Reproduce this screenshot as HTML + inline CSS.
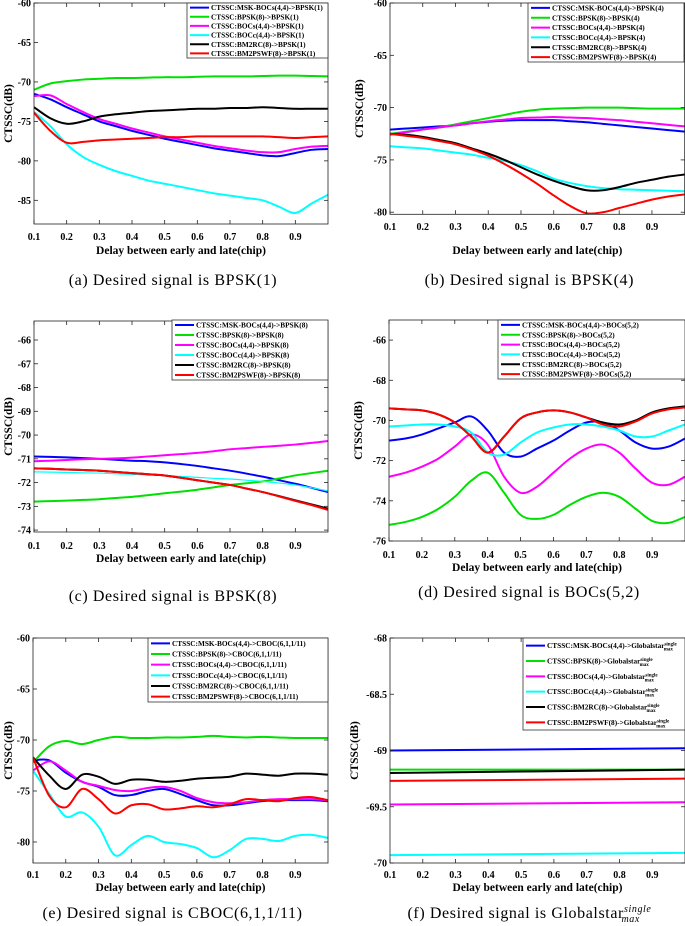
<!DOCTYPE html>
<html><head><meta charset="utf-8"><style>
html,body{margin:0;padding:0;background:#fff;}
svg{display:block;}
.tk{font:bold 10px "Liberation Serif",serif;fill:#000;}
.xl{font:bold 11.5px "Liberation Serif",serif;fill:#000;}
.cap{font:16px "Liberation Serif",serif;fill:#000;letter-spacing:0.6px;}
.lg{font:bold 7.3px "Liberation Serif",serif;fill:#000;}
</style></head><body>
<svg id="fig" width="685" height="926" viewBox="0 0 685 926" xmlns="http://www.w3.org/2000/svg"></svg>
<script>
// ---------- data ----------
const xsStep = [0.1,0.15,0.2,0.25,0.3,0.35,0.4,0.45,0.5,0.55,0.6,0.65,0.7,0.75,0.8,0.85,0.9,0.95,1.0];
const xsEnds = [0.1,1.0];
const seriesColors = ['#0000ff','#00e000','#ff00ff','#00ffff','#000000','#ff0000'];

// (a) BPSK(1)
const aBlue = [-71.5,-72.2,-73.2,-74.1,-75,-75.6,-76.2,-76.7,-77.2,-77.6,-78,-78.4,-78.7,-79,-79.3,-79.4,-79,-78.6,-78.5];
const aGreen = [-71,-70.2,-69.9,-69.7,-69.6,-69.5,-69.5,-69.45,-69.4,-69.4,-69.35,-69.3,-69.3,-69.3,-69.25,-69.2,-69.2,-69.25,-69.3];
const aMagenta = [-71.8,-71.7,-72.8,-73.8,-74.7,-75.3,-75.9,-76.4,-76.9,-77.3,-77.7,-78.1,-78.4,-78.7,-78.9,-78.9,-78.5,-78.2,-78.1];
const aCyan = [-73.8,-75.6,-77.9,-79.5,-80.5,-81.3,-81.9,-82.5,-82.9,-83.3,-83.7,-84.1,-84.4,-84.7,-85,-85.8,-86.6,-85.4,-84.3];
const aBlack = [-73.2,-74.6,-75.3,-75,-74.4,-74.1,-73.9,-73.7,-73.6,-73.5,-73.4,-73.4,-73.3,-73.3,-73.2,-73.3,-73.4,-73.4,-73.4];
const aRed = [-73.9,-76.2,-77.7,-77.6,-77.4,-77.3,-77.2,-77.1,-77,-77,-76.9,-76.9,-76.9,-76.9,-76.9,-77,-77.1,-77,-76.9];
const aTicks = [-60,-65,-70,-75,-80,-85];

// (b) BPSK(4)
const bBlue = [-72.1,-72,-71.9,-71.8,-71.7,-71.5,-71.35,-71.25,-71.2,-71.2,-71.2,-71.3,-71.4,-71.55,-71.7,-71.85,-72,-72.15,-72.3];
const bGreen = [-72.5,-72.3,-72.1,-71.9,-71.6,-71.3,-71,-70.7,-70.4,-70.2,-70.1,-70.05,-70,-70,-70,-70.05,-70.1,-70.1,-70.1];
const bMagenta = [-72.6,-72.35,-72.1,-71.9,-71.7,-71.5,-71.3,-71.15,-71,-70.95,-70.9,-70.95,-71,-71.1,-71.2,-71.35,-71.5,-71.65,-71.8];
const bCyan = [-73.7,-73.8,-73.9,-74.1,-74.3,-74.5,-74.8,-75.1,-75.5,-76.1,-76.8,-77.2,-77.5,-77.7,-77.8,-77.85,-77.9,-77.95,-78];
const bBlack = [-72.5,-72.6,-72.8,-73.1,-73.4,-73.9,-74.4,-75,-75.7,-76.4,-77,-77.5,-77.9,-77.9,-77.6,-77.2,-76.9,-76.6,-76.4];
const bRed = [-72.5,-72.7,-72.9,-73.2,-73.5,-74,-74.6,-75.4,-76.3,-77.3,-78.4,-79.4,-80.1,-80,-79.6,-79.2,-78.8,-78.5,-78.3];
const bTicks = [-60,-65,-70,-75,-80];

// (c) BPSK(8)
const cBlue = [-70.9,-70.92,-70.94,-70.97,-71,-71.04,-71.08,-71.1,-71.15,-71.22,-71.3,-71.4,-71.5,-71.62,-71.75,-71.9,-72.05,-72.22,-72.4];
const cGreen = [-72.8,-72.78,-72.76,-72.73,-72.7,-72.65,-72.6,-72.53,-72.45,-72.38,-72.3,-72.2,-72.1,-72.03,-71.95,-71.83,-71.7,-71.6,-71.5];
const cMagenta = [-71.1,-71.08,-71.05,-71.02,-71,-70.98,-70.95,-70.9,-70.85,-70.8,-70.75,-70.68,-70.6,-70.55,-70.5,-70.45,-70.4,-70.33,-70.25];
const cCyan = [-71.55,-71.56,-71.57,-71.59,-71.6,-71.63,-71.65,-71.68,-71.7,-71.74,-71.78,-71.82,-71.85,-71.9,-71.95,-72.02,-72.1,-72.22,-72.35];
const cBlack = [-71.4,-71.42,-71.45,-71.47,-71.5,-71.55,-71.6,-71.65,-71.7,-71.8,-71.9,-72,-72.1,-72.25,-72.4,-72.57,-72.75,-72.92,-73.1];
const cRed = [-71.4,-71.42,-71.45,-71.47,-71.5,-71.55,-71.6,-71.65,-71.7,-71.8,-71.9,-72,-72.1,-72.25,-72.4,-72.58,-72.77,-72.95,-73.15];
const cTicks = [-66,-67,-68,-69,-70,-71,-72,-73,-74];

// (d) BOCs(5,2)
const dBlue = [-71,-70.9,-70.7,-70.4,-70.1,-69.8,-70.5,-71.6,-71.8,-71.4,-71,-70.5,-70.1,-70.1,-70.5,-71.1,-71.4,-71.3,-70.9];
const dGreen = [-75.2,-75.05,-74.8,-74.4,-73.8,-73,-72.6,-73.6,-74.7,-74.9,-74.7,-74.2,-73.8,-73.6,-73.8,-74.4,-75,-75.1,-74.8];
const dMagenta = [-72.8,-72.6,-72.3,-71.9,-71.3,-70.7,-71.2,-72.8,-73.6,-73.3,-72.6,-71.9,-71.4,-71.2,-71.6,-72.4,-73.1,-73.2,-72.8];
const dCyan = [-70.3,-70.25,-70.2,-70.2,-70.3,-70.6,-71.6,-71.7,-71.1,-70.6,-70.35,-70.2,-70.2,-70.3,-70.5,-70.8,-70.8,-70.5,-70.2];
const dBlack = [-69.4,-69.45,-69.5,-69.7,-70.1,-70.8,-71.6,-70.8,-69.9,-69.6,-69.5,-69.6,-69.85,-70.1,-70.2,-70,-69.6,-69.4,-69.3];
const dRed = [-69.4,-69.45,-69.5,-69.7,-70.1,-70.8,-71.6,-70.8,-69.9,-69.6,-69.5,-69.6,-69.85,-70.2,-70.3,-70.05,-69.65,-69.45,-69.35];
const dTicks = [-66,-68,-70,-72,-74,-76];

// (e) CBOC(6,1,1/11)
const eBlue = [-72,-72,-73.2,-74.1,-74.6,-75.4,-75.4,-75,-74.8,-75.3,-75.9,-76.4,-76.4,-76.2,-76,-75.9,-75.9,-75.9,-76];
const eGreen = [-72.2,-70.6,-70.1,-70.4,-70,-69.7,-69.8,-69.8,-69.75,-69.75,-69.7,-69.6,-69.7,-69.75,-69.7,-69.75,-69.8,-69.8,-69.8];
const eMagenta = [-73,-72.1,-73,-74.1,-74.5,-74.9,-75,-74.7,-74.6,-75,-75.7,-76.1,-76.2,-76.1,-75.9,-75.8,-75.8,-75.8,-75.9];
const eCyan = [-73,-75.3,-77.5,-77.1,-78.5,-81.3,-80.3,-79.4,-80,-80.2,-80.6,-81.5,-80.8,-79.7,-79.7,-79.9,-79.4,-79.3,-79.6];
const eBlack = [-71.7,-73.5,-74.8,-73.4,-73.6,-74.3,-73.9,-73.9,-74.1,-74,-73.8,-73.7,-73.6,-73.3,-73.4,-73.5,-73.3,-73.3,-73.4];
const eRed = [-71.7,-75.5,-76.6,-74.8,-75.8,-77.2,-76.4,-76.3,-76.8,-76.7,-76.5,-76.6,-76.3,-75.8,-75.9,-76,-75.7,-75.6,-75.9];
const eTicks = [-60,-65,-70,-75,-80];

// (f) Globalstar
const fBlue = [-69.0,-68.98];
const fGreen = [-69.17,-69.17];
const fMagenta = [-69.48,-69.46];
const fCyan = [-69.93,-69.91];
const fBlack = [-69.2,-69.17];
const fRed = [-69.27,-69.25];
const fTicks = [-68,-68.5,-69,-69.5,-70];

const xTicks = [0.1,0.2,0.3,0.4,0.5,0.6,0.7,0.8,0.9];

// ---------- drawing ----------
const NS = 'http://www.w3.org/2000/svg';
const svg = document.getElementById('fig');
function mk(tag, attrs, parent){
  const e = document.createElementNS(NS, tag);
  for (const k in attrs) e.setAttribute(k, attrs[k]);
  (parent||svg).appendChild(e);
  return e;
}
function smoothPath(pts){
  let d = 'M'+pts[0][0].toFixed(2)+','+pts[0][1].toFixed(2);
  for (let i=0;i<pts.length-1;i++){
    const p0 = pts[Math.max(0,i-1)], p1 = pts[i], p2 = pts[i+1], p3 = pts[Math.min(pts.length-1,i+2)];
    const c1x = p1[0]+(p2[0]-p0[0])/6, c1y = p1[1]+(p2[1]-p0[1])/6;
    const c2x = p2[0]-(p3[0]-p1[0])/6, c2y = p2[1]-(p3[1]-p1[1])/6;
    d += ' C'+c1x.toFixed(2)+','+c1y.toFixed(2)+' '+c2x.toFixed(2)+','+c2y.toFixed(2)+' '+p2[0].toFixed(2)+','+p2[1].toFixed(2);
  }
  return d;
}

function panel(cfg){
  const g = mk('g', {});
  
  
  const L=cfg.box[0], T=cfg.box[1], R=cfg.box[2], B=cfg.box[3];
  const xs = v => L + (v-0.1)/(1.0-0.1)*(R-L);
  const ys = v => T + (cfg.ymax - v)/(cfg.ymax - cfg.ymin)*(B-T);
  const sg = mk('g', {'clip-path':'url(#clip-'+cfg.id+')'}, g);
  const cp = mk('clipPath', {id:'clip-'+cfg.id}, g);
  mk('rect', {x:L, y:T, width:R-L, height:B-T}, cp);
  cfg.series.forEach((s,i)=>{
    const pts = cfg.xs.map((x,j)=>[xs(x), ys(s[j])]);
    const w = (cfg.thin && i===3) ? 1.2 : 2;
    const p = mk('path', {d:smoothPath(pts), fill:'none', stroke:seriesColors[i], 'stroke-width':w, 'stroke-linejoin':'round'}, sg);
    
    
  });
  const bx = mk('rect', {x:L, y:T, width:R-L, height:B-T, fill:'none', stroke:'#222', 'stroke-width':0.8}, g);
  
  
  cfg.yticks.forEach(v=>{
    const y = ys(v);
    mk('line', {x1:L, x2:L+4, y1:y, y2:y, stroke:'#222', 'stroke-width':0.8}, g);
    mk('line', {x1:R, x2:R-4, y1:y, y2:y, stroke:'#222', 'stroke-width':0.8}, g);
    const t = mk('text', {x:L-3, y:y+3.5, 'text-anchor':'end', class:'tk'}, g);
    t.textContent = String(v);
    
    
  });
  xTicks.forEach(v=>{
    const x = xs(v);
    mk('line', {x1:x, x2:x, y1:B, y2:B-4, stroke:'#222', 'stroke-width':0.8}, g);
    mk('line', {x1:x, x2:x, y1:T, y2:T+4, stroke:'#222', 'stroke-width':0.8}, g);
    const t = mk('text', {x:x, y:cfg.tickY, 'text-anchor':'middle', class:'tk'}, g);
    t.textContent = v.toFixed(1);
    
    
  });
  const xl = mk('text', {x:(L+R)/2, y:cfg.xlabY, 'text-anchor':'middle', class:'xl'}, g);
  xl.textContent = 'Delay between early and late(chip)';
  
  
  const yx = cfg.ylabX, yy = (T+B)/2;
  const yl = mk('text', {x:yx, y:yy, 'text-anchor':'middle', class:'xl', transform:'rotate(-90 '+yx+' '+yy+')'}, g);
  yl.textContent = 'CTSSC(dB)';
  
  
  const cap = mk('text', {x:(L+R)/2 - 8, y:cfg.capY, 'text-anchor':'middle', class:'cap'}, g);
  
  
  if (cfg.glob){
    cap.textContent = cfg.caption;
    const s1 = mk('tspan', {'font-size':'10', 'font-style':'italic', dy:'-6'}, cap); s1.textContent='single';
    const s2 = mk('tspan', {'font-size':'10', 'font-style':'italic', dx:'-30', dy:'10'}, cap); s2.textContent='max';
  } else cap.textContent = cfg.caption;
  const lg = mk('g', {}, g);
  
  
  const [lx0,ly0,lx1,ly1] = cfg.legend;
  mk('rect', {x:lx0, y:ly0, width:lx1-lx0, height:ly1-ly0, fill:'#fff', stroke:'#333', 'stroke-width':0.8}, lg);
  const sp = (ly1-ly0)/6;
  cfg.labels.forEach((lab,i)=>{
    const y = ly0 + sp*(i+0.5);
    const ln = mk('line', {x1:lx0+3, x2:lx0+22, y1:y, y2:y, stroke:seriesColors[i], 'stroke-width':2}, lg);
    
    
    const t = mk('text', {x:lx0+24, y:y+2.5, class:'lg'}, lg);
    
    
    if (cfg.glob){
      t.textContent = lab;
      const a = mk('tspan', {'font-size':'5', dy:'-2.5'}, t); a.textContent='single';
      const b = mk('tspan', {'font-size':'5', dx:'-13', dy:'5'}, t); b.textContent='max';
    } else t.textContent = lab;
  });
}
const keys = ['msk-bocs','bpsk8','bocs','bocc','bm2rc','bm2pswf'];
function labs(tgt){
  return ['CTSSC:MSK-BOCs(4,4)->'+tgt,'CTSSC:BPSK(8)->'+tgt,'CTSSC:BOCs(4,4)->'+tgt,'CTSSC:BOCc(4,4)->'+tgt,'CTSSC:BM2RC(8)->'+tgt,'CTSSC:BM2PSWF(8)->'+tgt];
}
panel({id:'a', name:'panel-a-bpsk1', box:[34,3,328,224], ymin:-88, ymax:-60, xs:xsStep, keys:keys,
  series:[aBlue,aGreen,aMagenta,aCyan,aBlack,aRed], yticks:aTicks, tickY:240, xlabY:254, ylabX:12, capY:285,
  caption:'(a) Desired signal is BPSK(1)', legend:[187,3,328,58], labels:labs('BPSK(1)')});
panel({id:'b', name:'panel-b-bpsk4', box:[390,3,684.7,214.3], ymin:-80.2, ymax:-60, xs:xsStep, keys:keys,
  series:[bBlue,bGreen,bMagenta,bCyan,bBlack,bRed], yticks:bTicks, tickY:230, xlabY:254, ylabX:363, capY:285,
  caption:'(b) Desired signal is BPSK(4)', legend:[528,3,684,62], labels:labs('BPSK(4)')});
panel({id:'c', name:'panel-c-bpsk8', box:[34,321,328,532], ymin:-74.08, ymax:-65.2, xs:xsStep, keys:keys, thin:true,
  series:[cBlue,cGreen,cMagenta,cCyan,cBlack,cRed], yticks:cTicks, tickY:549, xlabY:562, ylabX:12, capY:601,
  caption:'(c) Desired signal is BPSK(8)', legend:[172,320,328,380], labels:labs('BPSK(8)')});
panel({id:'d', name:'panel-d-bocs52', box:[389,320,685,541], ymin:-76, ymax:-65, xs:xsStep, keys:keys,
  series:[dBlue,dGreen,dMagenta,dCyan,dBlack,dRed], yticks:dTicks, tickY:558, xlabY:571, ylabX:362, capY:597,
  caption:'(d) Desired signal is BOCs(5,2)', legend:[498,320,685,379], labels:labs('BOCs(5,2)')});
panel({id:'e', name:'panel-e-cboc', box:[33,638,328,863], ymin:-82.06, ymax:-60, xs:xsStep, keys:keys,
  series:[eBlue,eGreen,eMagenta,eCyan,eBlack,eRed], yticks:eTicks, tickY:878, xlabY:891, ylabX:12, capY:918,
  caption:'(e) Desired signal is CBOC(6,1,1/11)', legend:[148,638,328,702], labels:labs('CBOC(6,1,1/11)')});
panel({id:'f', name:'panel-f-globalstar', box:[390,638,685,863], ymin:-70, ymax:-68, xs:xsEnds, keys:keys, glob:true,
  series:[fBlue,fGreen,fMagenta,fCyan,fBlack,fRed], yticks:fTicks, tickY:878, xlabY:891, ylabX:358, capY:918,
  caption:'(f) Desired signal is Globalstar', legend:[523,638,685,730], labels:labs('Globalstar')});
</script>
</body></html>
